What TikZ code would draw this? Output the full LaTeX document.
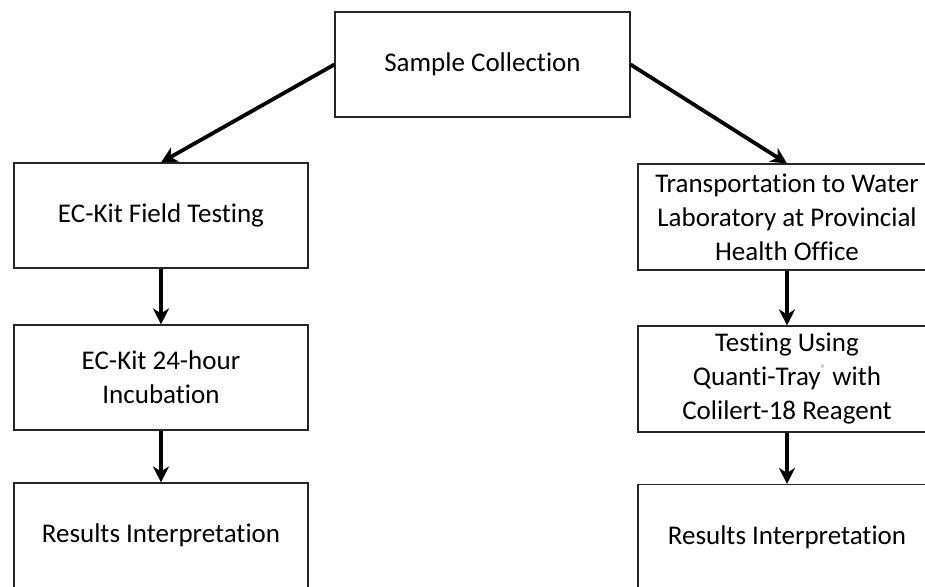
\documentclass[tikz,border=0pt]{standalone}
\usepackage{fontspec}
\setmainfont{Carlito}[Ligatures=NoCommon]
\usetikzlibrary{arrows.meta}
\tikzset{
  procbox/.style={draw=black!85, line width=1.1pt, inner sep=0pt, align=center,
    font=\fontsize{27}{34}\selectfont},
  flowarrow/.style={line width=3.8pt, -{Stealth[length=16pt,width=16pt,inset=5pt]}},
}
\begin{document}
\begin{tikzpicture}[x=1pt,y=-1pt]
\useasboundingbox (0,0) rectangle (925,586);
\clip (0,0) rectangle (925,586);
\fill[white] (0,0) rectangle (925,586);
\node[procbox, minimum width=295pt, minimum height=105pt] (top) at (482.5,64.5) {Sample Collection};
\node[procbox, minimum width=294pt, minimum height=105pt] (l1) at (161,215.5) {EC-Kit Field Testing};
\node[procbox, minimum width=294pt, minimum height=105pt] (l2) at (161,377.5) {EC-Kit 24-hour\\Incubation};
\node[procbox, minimum width=294pt, minimum height=105pt] (l3) at (161,535.5) {Results Interpretation};
\node[procbox, minimum width=298pt, minimum height=106pt] (r1) at (787,217) {Transportation to Water\\Laboratory at Provincial\\Health Office};
\node[procbox, minimum width=298pt, minimum height=106pt] (r2) at (787,379) {Testing Using\\Quanti-Tray\raisebox{0.5em}{\color{black!45}\fontsize{11}{11}\selectfont ®} with\\Colilert-18 Reagent};
\node[procbox, minimum width=298pt, minimum height=106pt] (r3) at (787,537.5) {Results Interpretation};
\draw[flowarrow] (top.west) -- (l1.north);
\draw[flowarrow] (top.east) -- (r1.north);
\draw[flowarrow] (l1) -- (l2);
\draw[flowarrow] (l2) -- (l3);
\draw[flowarrow] (r1) -- (r2);
\draw[flowarrow] (r2) -- (r3);
\end{tikzpicture}
\end{document}
